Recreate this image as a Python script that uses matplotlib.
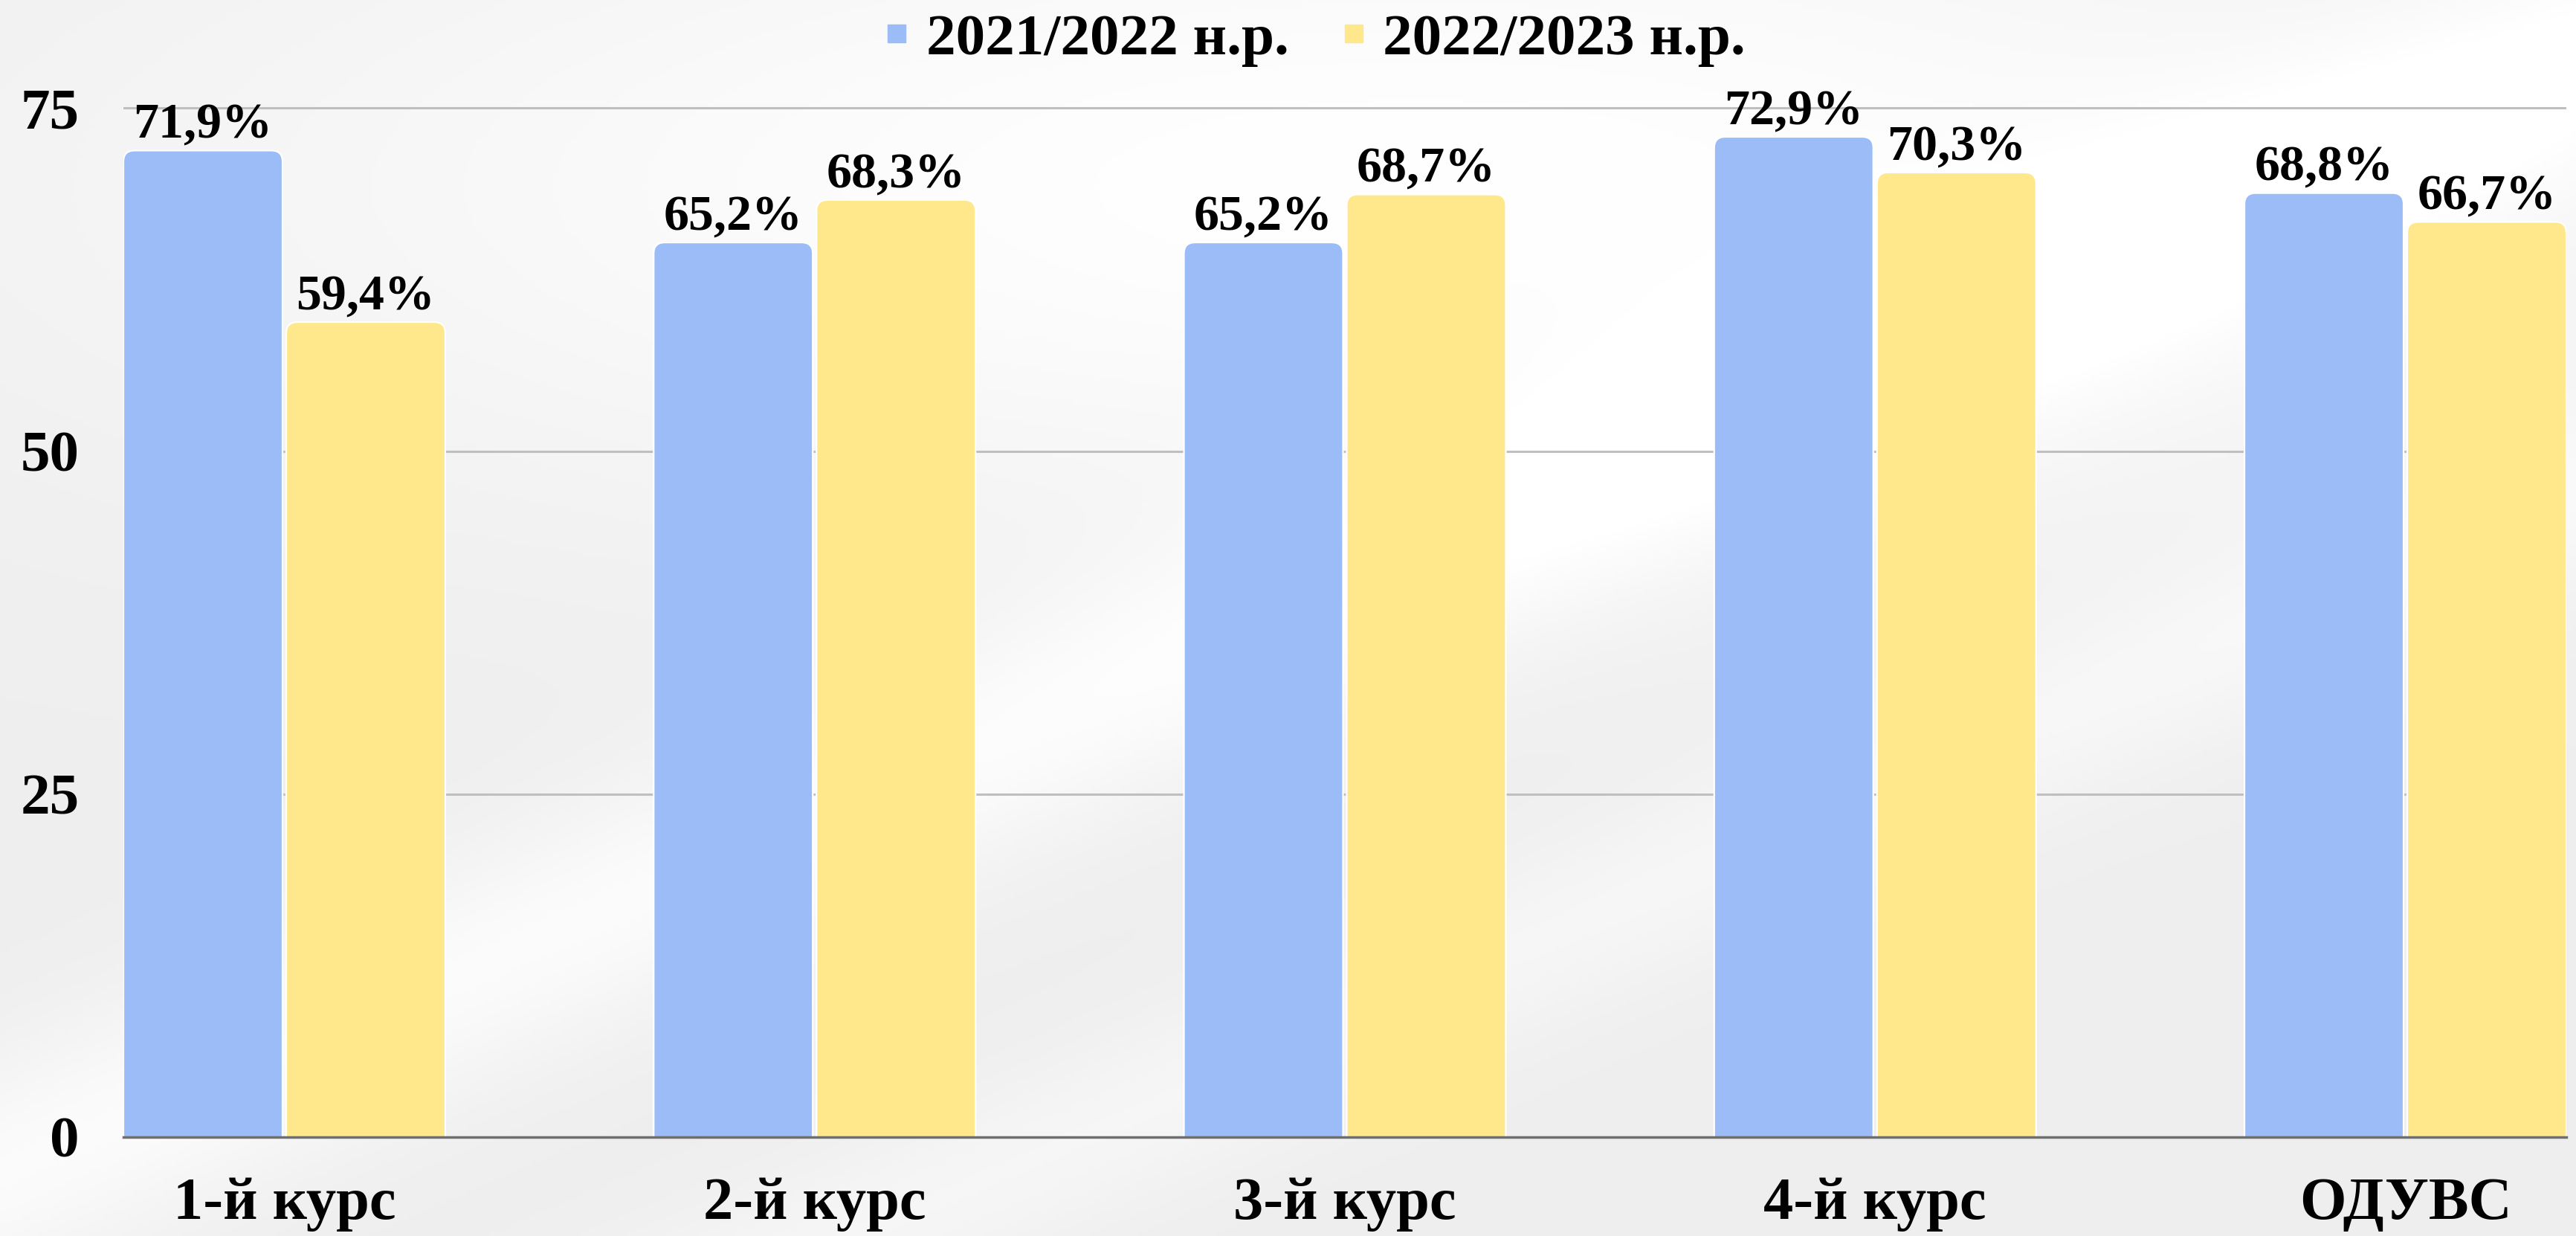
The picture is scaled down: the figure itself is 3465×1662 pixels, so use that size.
import numpy as np
import matplotlib
matplotlib.use('Agg')
import matplotlib.pyplot as plt
from matplotlib.patches import FancyBboxPatch
from matplotlib.lines import Line2D

kursy = ['1-й курс', '2-й курс', '3-й курс', '4-й курс', 'ОДУВС']
roky = ['2021/2022 н.р.', '2022/2023 н.р.']
val_2122 = [71.9, 65.2, 65.2, 72.9, 68.8]
val_2223 = [59.4, 68.3, 68.7, 70.3, 66.7]
yticks = [0, 25, 50, 75]

kolir = ['#9BBCF6', '#FFE78C']

plt.rcParams['font.family'] = ['Liberation Serif', 'DejaVu Serif']
plt.rcParams['font.weight'] = 'bold'

W, H = 3465, 1662
fig = plt.figure(figsize=(W / 100, H / 100), dpi=100)

# фон: светло-серый с белыми разводами
bg = fig.add_axes([0, 0, 1, 1], zorder=-10)
yy, xx = np.mgrid[0:1:300j, 0:1:600j]
g = 0.935 + 0.0 * xx
g += 0.065 * np.exp(-((yy - 0.15) ** 2 / 0.08 + (xx - 0.55) ** 2 / 0.25))
g += 0.05 * np.exp(-((yy - (0.95 - 0.9 * xx)) ** 2) / 0.01)
g += 0.03 * np.exp(-((yy - (1.3 - 0.9 * xx)) ** 2) / 0.006)
g = np.clip(g, 0, 1)
bg.imshow(np.dstack([g, g, g]), aspect='auto', extent=[0, 1, 0, 1])
bg.axis('off')

ax = fig.add_axes([166 / W, 1 - 1529 / H, (3452 - 166) / W, (1529 - 53) / H])
ax.set_facecolor('none')

x = np.arange(len(kursy))
w = 0.3
sdvig = 0.1535

bars1 = ax.bar(x - sdvig, val_2122, w, color=kolir[0])
bars2 = ax.bar(x + sdvig, val_2223, w, color=kolir[1])

ax.set_xlim(-0.3035, len(kursy) - 1 + 0.3035)
ax.set_ylim(0, 80)

# скругленные верхние углы
for bars, c in [(bars1, kolir[0]), (bars2, kolir[1])]:
    for r in bars:
        bx, by = r.get_x(), r.get_y()
        bw, bh = r.get_width(), r.get_height()
        r.set_visible(False)
        p = FancyBboxPatch((bx, by - 2), bw, bh + 2,
                           boxstyle='round,pad=0,rounding_size=0.021',
                           mutation_aspect=38.5, facecolor=c,
                           edgecolor='white', linewidth=1.6, zorder=3)
        ax.add_patch(p)
        ax.annotate(f'{bh:.1f}%'.replace('.', ','),
                    (bx + bw / 2, bh), xytext=(0, 2), textcoords='offset points',
                    ha='center', va='bottom', fontsize=49, fontweight='bold',
                    zorder=5)

ax.set_yticks(yticks)
ax.yaxis.grid(True, color='#BFBFBF', linewidth=2.2)
ax.set_axisbelow(True)
ax.set_xticks(x)
ax.set_xticklabels(kursy)
ax.tick_params(axis='y', length=0, pad=43, labelsize=57)
ax.tick_params(axis='x', length=0, pad=39, labelsize=58)
for s in ['top', 'left', 'right']:
    ax.spines[s].set_visible(False)
ax.spines['bottom'].set_color('#6E6E6E')
ax.spines['bottom'].set_linewidth(2.5)
ax.spines['bottom'].set_zorder(4)

handles = [Line2D([], [], marker='s', linestyle='none', markersize=17,
                  color=c) for c in kolir]
fig.legend(handles, roky, loc='center', bbox_to_anchor=(1769 / W, 1 - 54 / H),
           ncol=2, frameon=False, fontsize=57, handlelength=0.4,
           handletextpad=0.3, columnspacing=0.9, borderpad=0)

fig.savefig('out.png', dpi=100)
